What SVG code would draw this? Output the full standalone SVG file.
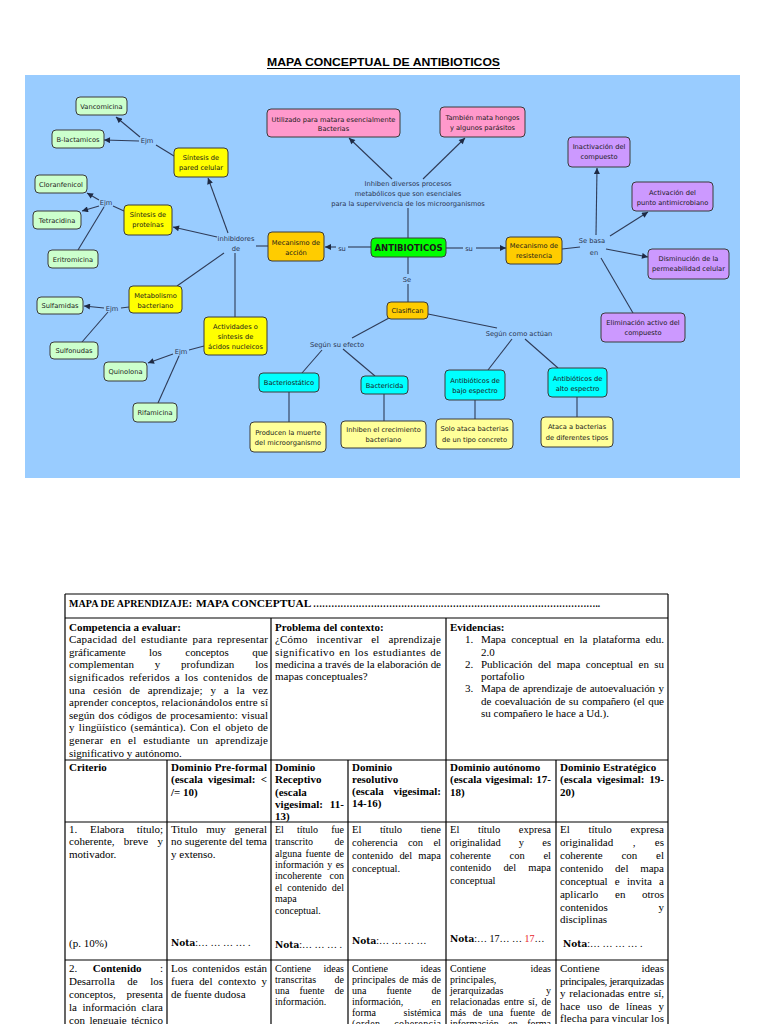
<svg xmlns="http://www.w3.org/2000/svg" width="768" height="1024" viewBox="0 0 768 1024">
<defs>
<marker id="ah" viewBox="0 0 10 10" refX="10" refY="5" markerWidth="7" markerHeight="6" markerUnits="userSpaceOnUse" orient="auto"><path d="M0,0 L10,5 L0,10 z" fill="#1e2a44"/></marker>
<style>
.n rect{stroke:#3a3a3a;stroke-width:1}
.n text{font-family:"DejaVu Sans",Verdana,sans-serif;font-size:6.7px;fill:#1a1a1a;text-anchor:middle}
.lbl{font-family:"DejaVu Sans",Verdana,sans-serif;font-size:6.7px;fill:#2a3450;text-anchor:middle}
.c line{stroke:#2f3b57;stroke-width:1.1}
.ar{marker-end:url(#ah)}
.g{fill:#ccffcc}.y{fill:#ffff00}.o{fill:#ffcc00}.p{fill:#ff99cc}.v{fill:#cc99ff}.cy{fill:#00ffff}.ly{fill:#ffff99}.gr{fill:#00ff00}
.tb line{stroke:#000;stroke-width:1.2}
.s{font-family:"Liberation Serif","Times New Roman",serif;font-size:11px;fill:#000}
.s10{font-size:10px}
.bd{font-weight:bold}
.nota{font-family:"DejaVu Serif",serif;font-size:9px;font-weight:bold}
</style>
</defs>
<rect width="768" height="1024" fill="#ffffff"/>
<text x="267" y="66" font-family="Liberation Sans,Arial,sans-serif" font-size="11.5" font-weight="bold" textLength="233" lengthAdjust="spacingAndGlyphs">MAPA CONCEPTUAL DE ANTIBIOTICOS</text>
<line x1="267" y1="68.5" x2="500" y2="68.5" stroke="#000" stroke-width="1"/>
<rect x="25" y="75" width="715" height="403" fill="#99ccff"/>

<g id="connectors" class="c">
<line x1="174" y1="156" x2="156" y2="145"/>
<line class="ar" x1="140" y1="137" x2="116" y2="117"/>
<line class="ar" x1="139" y1="141" x2="104" y2="140"/>
<line class="ar" x1="228" y1="233" x2="208" y2="178"/>
<line class="ar" x1="217" y1="237" x2="173" y2="227"/>
<line x1="124" y1="211" x2="113" y2="206"/>
<line class="ar" x1="99" y1="200" x2="87" y2="193"/>
<line class="ar" x1="99" y1="206" x2="82" y2="211"/>
<line x1="104" y1="207" x2="78" y2="250"/>
<line x1="224" y1="253" x2="177" y2="286"/>
<line x1="235" y1="253" x2="235" y2="317"/>
<line x1="268" y1="246" x2="256" y2="246"/>
<line x1="129" y1="307" x2="121" y2="308"/>
<line class="ar" x1="104" y1="308" x2="84" y2="306"/>
<line x1="108" y1="312" x2="82" y2="342"/>
<line x1="204" y1="346" x2="189" y2="350"/>
<line class="ar" x1="173" y1="354" x2="148" y2="363"/>
<line x1="179" y1="356" x2="158" y2="403"/>
<line x1="371" y1="247" x2="348" y2="247"/>
<line class="ar" x1="336" y1="247" x2="325" y2="247"/>
<line x1="446" y1="248" x2="463" y2="248"/>
<line class="ar" x1="476" y1="248" x2="506" y2="248"/>
<line x1="408" y1="238" x2="408" y2="208"/>
<line class="ar" x1="392" y1="179" x2="349" y2="138"/>
<line class="ar" x1="423" y1="179" x2="465" y2="138"/>
<line x1="562" y1="249" x2="580" y2="247"/>
<line class="ar" x1="596" y1="235" x2="597" y2="168"/>
<line class="ar" x1="610" y1="236" x2="648" y2="212"/>
<line class="ar" x1="606" y1="249" x2="648" y2="257"/>
<line x1="601" y1="258" x2="633" y2="313"/>
<line x1="408" y1="257" x2="408" y2="274"/>
<line x1="408" y1="284" x2="408" y2="302"/>
<line x1="389" y1="318" x2="352" y2="338"/>
<line x1="322" y1="350" x2="302" y2="373"/>
<line x1="343" y1="349" x2="375" y2="376"/>
<line x1="289" y1="392" x2="289" y2="422"/>
<line x1="384" y1="394" x2="384" y2="421"/>
<line x1="428" y1="314" x2="497" y2="328"/>
<line x1="512" y1="339" x2="488" y2="370"/>
<line x1="525" y1="339" x2="558" y2="368"/>
<line x1="475" y1="400" x2="475" y2="419"/>
<line x1="577" y1="397" x2="577" y2="417"/>
</g>

<g id="linklabels">
<text class="lbl" x="147" y="142.5">Ejm</text>
<text class="lbl" x="106" y="204.5">Ejm</text>
<text class="lbl" x="236" y="240.5">inhibidores</text>
<text class="lbl" x="236" y="250.5">de</text>
<text class="lbl" x="112" y="310.5">Ejm</text>
<text class="lbl" x="181" y="353.5">Ejm</text>
<text class="lbl" x="342" y="250.5">su</text>
<text class="lbl" x="469" y="250.5">su</text>
<text class="lbl" x="408" y="185.5">Inhiben diversos procesos</text>
<text class="lbl" x="408" y="195.5">metabólicos que son esenciales</text>
<text class="lbl" x="408" y="205.5">para la supervivencia de los microorganismos</text>
<text class="lbl" x="592" y="242.5">Se basa</text>
<text class="lbl" x="594" y="254.5">en</text>
<text class="lbl" x="407" y="281.5">Se</text>
<text class="lbl" x="337" y="346.5">Según su efecto</text>
<text class="lbl" x="519" y="335.5">Según como actúan</text>
</g>

<g id="n_vancomicina" class="n"><rect class="g" x="76" y="97" width="51" height="18" rx="4"/><text x="101.5" y="108.5">Vancomicina</text></g>
<g id="n_blactamicos" class="n"><rect class="g" x="52" y="130" width="52" height="18" rx="4"/><text x="78" y="141.5">B-lactamicos</text></g>
<g id="n_pared" class="n"><rect class="y" x="174" y="148" width="54" height="29" rx="4"/><text x="201" y="160">Síntesis de</text><text x="201" y="170">pared celular</text></g>
<g id="n_cloranfenicol" class="n"><rect class="g" x="35" y="175" width="52" height="18" rx="4"/><text x="61" y="186.5">Cloranfenicol</text></g>
<g id="n_tetracidina" class="n"><rect class="g" x="33" y="211" width="48" height="18" rx="4"/><text x="57" y="222.5">Tetracidina</text></g>
<g id="n_proteinas" class="n"><rect class="y" x="124" y="205" width="48" height="30" rx="4"/><text x="148" y="217">Síntesis de</text><text x="148" y="227">proteínas</text></g>
<g id="n_eritromicina" class="n"><rect class="g" x="48" y="250" width="50" height="18" rx="4"/><text x="73" y="261.5">Eritromicina</text></g>
<g id="n_metabolismo" class="n"><rect class="y" x="129" y="286" width="53" height="27" rx="4"/><text x="155.5" y="297.5">Metabolismo</text><text x="155.5" y="307.5">bacteriano</text></g>
<g id="n_sulfamidas" class="n"><rect class="g" x="37" y="297" width="46" height="17" rx="4"/><text x="60" y="308">Sulfamidas</text></g>
<g id="n_sulfonudas" class="n"><rect class="g" x="50" y="342" width="48" height="17" rx="4"/><text x="74" y="353">Sulfonudas</text></g>
<g id="n_actividades" class="n"><rect class="y" x="204" y="317" width="63" height="38" rx="4"/><text x="235.5" y="329">Actividades o</text><text x="235.5" y="339">síntesis de</text><text x="235.5" y="349">ácidos nucleicos</text></g>
<g id="n_quinolona" class="n"><rect class="g" x="104" y="362" width="43" height="19" rx="4"/><text x="125.5" y="373.5">Quinolona</text></g>
<g id="n_rifamicina" class="n"><rect class="g" x="133" y="403" width="44" height="19" rx="4"/><text x="155" y="414.5">Rifamicina</text></g>
<g id="n_mec_accion" class="n"><rect class="o" x="268" y="232" width="56" height="29" rx="4"/><text x="296" y="244.5">Mecanismo de</text><text x="296" y="254.5">acción</text></g>
<g id="n_antibioticos" class="n"><rect class="gr" x="371" y="238" width="75" height="19" rx="4"/><text x="408.5" y="250.8" style="font-weight:bold;font-size:8.5px">ANTIBIOTICOS</text></g>
<g id="n_mec_resistencia" class="n"><rect class="o" x="506" y="237" width="56" height="27" rx="4"/><text x="534" y="248">Mecanismo de</text><text x="534" y="258">resistencia</text></g>
<g id="n_utilizado" class="n"><rect class="p" x="267" y="109" width="133" height="28" rx="4"/><text x="333.5" y="121.5">Utilizado para matara esencialmente</text><text x="333.5" y="131">Bacterias</text></g>
<g id="n_tambien" class="n"><rect class="p" x="440" y="107" width="85" height="30" rx="4"/><text x="482.5" y="119.5">También mata hongos</text><text x="482.5" y="129.5">y algunos parásitos</text></g>
<g id="n_inactivacion" class="n"><rect class="v" x="568" y="137" width="62" height="30" rx="4"/><text x="599" y="148.5">Inactivación del</text><text x="599" y="159">compuesto</text></g>
<g id="n_activacion" class="n"><rect class="v" x="632" y="182" width="81" height="29" rx="4"/><text x="672.5" y="194.5">Activación del</text><text x="672.5" y="204.5">punto antimicrobiano</text></g>
<g id="n_disminucion" class="n"><rect class="v" x="648" y="249" width="81" height="30" rx="4"/><text x="688.5" y="260.5">Disminución de la</text><text x="688.5" y="271">permeabilidad celular</text></g>
<g id="n_eliminacion" class="n"><rect class="v" x="601" y="313" width="84" height="29" rx="4"/><text x="643" y="325">Eliminación activo del</text><text x="643" y="335">compuesto</text></g>
<g id="n_clasifican" class="n"><rect class="o" x="387" y="302" width="41" height="17" rx="4"/><text x="407.5" y="313">Clasifican</text></g>
<g id="n_bacteriostatico" class="n"><rect class="cy" x="259" y="373" width="60" height="19" rx="4"/><text x="289" y="384.5">Bacteriostático</text></g>
<g id="n_bactericida" class="n"><rect class="cy" x="361" y="376" width="47" height="18" rx="4"/><text x="384.5" y="387.5">Bactericida</text></g>
<g id="n_bajo" class="n"><rect class="cy" x="445" y="370" width="60" height="30" rx="4"/><text x="475" y="383">Antibióticos de</text><text x="475" y="393">bajo espectro</text></g>
<g id="n_alto" class="n"><rect class="cy" x="548" y="368" width="59" height="29" rx="4"/><text x="577.5" y="380.5">Antibióticos de</text><text x="577.5" y="390.5">alto espectro</text></g>
<g id="n_producen" class="n"><rect class="ly" x="250" y="422" width="76" height="30" rx="4"/><text x="288" y="434.5">Producen la muerte</text><text x="288" y="444.5">del microorganismo</text></g>
<g id="n_inhiben" class="n"><rect class="ly" x="341" y="421" width="85" height="27" rx="4"/><text x="383.5" y="432">Inhiben el crecimiento</text><text x="383.5" y="442">bacteriano</text></g>
<g id="n_solo" class="n"><rect class="ly" x="436" y="419" width="77" height="30" rx="4"/><text x="474.5" y="431">Solo ataca bacterias</text><text x="474.5" y="441.5">de un tipo concreto</text></g>
<g id="n_ataca" class="n"><rect class="ly" x="541" y="417" width="72" height="30" rx="4"/><text x="577" y="429">Ataca a bacterias</text><text x="577" y="439.5">de diferentes tipos</text></g>

<g id="table" class="tb">
<line x1="65" y1="594" x2="668" y2="594"/>
<line x1="65" y1="618" x2="668" y2="618"/>
<line x1="65" y1="760" x2="668" y2="760"/>
<line x1="65" y1="822" x2="668" y2="822"/>
<line x1="65" y1="960" x2="668" y2="960"/>
<line x1="65" y1="594" x2="65" y2="1024"/>
<line x1="668" y1="594" x2="668" y2="1024"/>
<line x1="271" y1="618" x2="271" y2="760"/>
<line x1="446" y1="618" x2="446" y2="760"/>
<line x1="167" y1="760" x2="167" y2="1024"/>
<line x1="271" y1="760" x2="271" y2="1024"/>
<line x1="348" y1="760" x2="348" y2="1024"/>
<line x1="446" y1="760" x2="446" y2="1024"/>
<line x1="556" y1="760" x2="556" y2="1024"/>
</g>

<g id="table_text">
<text class="s bd" x="69" y="607" style="font-size:10px" textLength="123">MAPA DE APRENDIZAJE:</text>
<text class="s bd" x="196" y="607" style="font-size:11.4px">MAPA CONCEPTUAL</text>
<text class="s bd" x="313" y="607" textLength="287" lengthAdjust="spacingAndGlyphs">…………………………………………………………………………………..</text>

<text class="s bd" x="69" y="630.5">Competencia a evaluar:</text>
<text class="s" x="69" y="643.1" textLength="199" word-spacing="2">Capacidad del estudiante para representar</text>
<text class="s" x="69" y="655.7" textLength="199" word-spacing="21">gráficamente los conceptos que</text>
<text class="s" x="69" y="668.3" textLength="199" word-spacing="18">complementan y profundizan los</text>
<text class="s" x="69" y="680.9" textLength="199" word-spacing="2">significados referidos a los contenidos  de</text>
<text class="s" x="69" y="693.5" textLength="199" word-spacing="5">una cesión de aprendizaje; y a la vez</text>
<text class="s" x="69" y="706.1" textLength="199">aprender conceptos, relacionándolos entre sí</text>
<text class="s" x="69" y="718.7" textLength="199" word-spacing="1">según dos códigos de procesamiento: visual</text>
<text class="s" x="69" y="731.3" textLength="199" word-spacing="1.4">y lingüístico (semántica). Con el objeto de</text>
<text class="s" x="69" y="743.9" textLength="199" word-spacing="4">generar en el estudiante un aprendizaje</text>
<text class="s" x="69" y="756.5">significativo y autónomo.</text>

<text class="s bd" x="275" y="631">Problema del contexto:</text>
<text class="s" x="275" y="643" textLength="166" word-spacing="6"> ¿Cómo incentivar el aprendizaje</text>
<text class="s" x="275" y="655.5" textLength="166" word-spacing="1.2">significativo en los estudiantes de</text>
<text class="s" x="275" y="668" textLength="166">medicina a través de la elaboración de</text>
<text class="s" x="275" y="680">mapas conceptuales?</text>

<text class="s bd" x="450" y="631">Evidencias:</text>
<text class="s" x="465" y="643">1.</text>
<text class="s" x="481" y="643" textLength="183" word-spacing="2.7">Mapa conceptual en la plataforma edu.</text>
<text class="s" x="481" y="655.5">2.0</text>
<text class="s" x="465" y="668">2.</text>
<text class="s" x="481" y="668" textLength="183" word-spacing="2.7">Publicación del mapa conceptual en su</text>
<text class="s" x="481" y="680">portafolio</text>
<text class="s" x="465" y="692">3.</text>
<text class="s" x="481" y="692" textLength="183" word-spacing="0.8">Mapa de aprendizaje de autoevaluación y</text>
<text class="s" x="481" y="704.5" textLength="183" word-spacing="1">de coevaluación de su compañero (el que</text>
<text class="s" x="481" y="717">su compañero le hace a Ud.).</text>

<text class="s bd" x="69" y="771">Criterio</text>
<text class="s bd" x="171" y="771" textLength="96">Dominio Pre-formal</text>
<text class="s bd" x="171" y="783.3" textLength="96" word-spacing="2.5">(escala vigesimal: &lt;</text>
<text class="s bd" x="171" y="795.6">/= 10)</text>
<text class="s bd" x="275" y="771">Dominio</text>
<text class="s bd" x="275" y="783.3">Receptivo</text>
<text class="s bd" x="275" y="795.6">(escala</text>
<text class="s bd" x="275" y="807.9" textLength="69" word-spacing="4">vigesimal: 11-</text>
<text class="s bd" x="275" y="820.2">13)</text>
<text class="s bd" x="352" y="771">Dominio</text>
<text class="s bd" x="352" y="783">resolutivo</text>
<text class="s bd" x="352" y="795" textLength="89" word-spacing="7">(escala vigesimal:</text>
<text class="s bd" x="352" y="807">14-16)</text>
<text class="s bd" x="450" y="771">Dominio autónomo</text>
<text class="s bd" x="450" y="783.3" textLength="101" word-spacing="0.7">(escala vigesimal: 17-</text>
<text class="s bd" x="450" y="795.6">18)</text>
<text class="s bd" x="560" y="771">Dominio Estratégico</text>
<text class="s bd" x="560" y="783.3" textLength="104" word-spacing="2">(escala vigesimal: 19-</text>
<text class="s bd" x="560" y="795.6">20)</text>

<text class="s" x="69" y="833" textLength="94" word-spacing="10">1. Elabora título;</text>
<text class="s" x="69" y="845" textLength="94" word-spacing="6.5">coherente, breve y</text>
<text class="s" x="69" y="858">motivador.</text>
<text class="s" x="69" y="947">(p. 10%)</text>

<text class="s" x="171" y="833" textLength="96" word-spacing="6">Titulo muy general</text>
<text class="s" x="171" y="845" textLength="96">no sugerente del tema</text>
<text class="s" x="171" y="858">y extenso.</text>
<text class="s s10" x="171" y="946"><tspan class="nota">Nota</tspan>:… … … … .</text>

<text class="s s10" x="275" y="833" textLength="69" word-spacing="10.6">El título fue</text>
<text class="s s10" x="275" y="845" textLength="69" word-spacing="19">transcrito de</text>
<text class="s s10" x="275" y="857" textLength="69" word-spacing="1.5">alguna fuente de</text>
<text class="s s10" x="275" y="868" textLength="69" word-spacing="1">información y es</text>
<text class="s s10" x="275" y="879" textLength="69" word-spacing="5.4">incoherente con</text>
<text class="s s10" x="275" y="891" textLength="69" word-spacing="2.5">el contenido del</text>
<text class="s s10" x="275" y="902">mapa</text>
<text class="s s10" x="275" y="914">conceptual.</text>
<text class="s s10" x="275" y="948"><tspan class="nota">Nota</tspan>:… … … .</text>

<text class="s" style="font-size:10.5px" x="352" y="833" textLength="89" word-spacing="16">El título tiene</text>
<text class="s" style="font-size:10.5px" x="352" y="846" textLength="89" word-spacing="7.7">coherencia con el</text>
<text class="s" style="font-size:10.5px" x="352" y="859" textLength="89" word-spacing="3.5">contenido del mapa</text>
<text class="s" style="font-size:10.5px" x="352" y="872">conceptual.</text>
<text class="s s10" x="352" y="944"><tspan class="nota">Nota</tspan>:… … … …</text>

<text class="s" style="font-size:10.5px" x="450" y="833" textLength="101" word-spacing="16">El título expresa</text>
<text class="s" style="font-size:10.5px" x="450" y="846" textLength="101" word-spacing="15.5">originalidad y es</text>
<text class="s" style="font-size:10.5px" x="450" y="859" textLength="101" word-spacing="16">coherente con el</text>
<text class="s" style="font-size:10.5px" x="450" y="871" textLength="101" word-spacing="9.5">contenido del mapa</text>
<text class="s" style="font-size:10.5px" x="450" y="884">conceptual</text>
<text class="s s10" x="450" y="942"><tspan class="nota">Nota</tspan>:… 17… … <tspan fill="#e8262d">17</tspan>…</text>

<text class="s" x="560" y="833" textLength="104" word-spacing="16">El título expresa</text>
<text class="s" x="560" y="846" textLength="104" word-spacing="16.7">originalidad , es</text>
<text class="s" x="560" y="859" textLength="104" word-spacing="16">coherente con el</text>
<text class="s" x="560" y="872" textLength="104" word-spacing="9">contenido del mapa</text>
<text class="s" x="560" y="885" textLength="104" word-spacing="4.4">conceptual e invita a</text>
<text class="s" x="560" y="898" textLength="104" word-spacing="14">aplicarlo en otros</text>
<text class="s" x="560" y="911" textLength="104" word-spacing="48">contenidos y</text>
<text class="s" x="560" y="923">disciplinas</text>
<text class="s s10" x="563" y="947"><tspan class="nota">Nota</tspan>:… … … … .</text>

<text class="s" x="69" y="972"><tspan x="69">2.</tspan><tspan x="92.7" class="bd">Contenido</tspan><tspan x="163" text-anchor="end">:</tspan></text>
<text class="s" x="69" y="985" textLength="94" word-spacing="9.7">Desarrolla de los</text>
<text class="s" x="69" y="998" textLength="94" word-spacing="8">conceptos, presenta</text>
<text class="s" x="69" y="1011" textLength="94" word-spacing="2.7">la información clara</text>
<text class="s" x="69" y="1024" textLength="94" word-spacing="1.8">con lenguaje técnico</text>

<text class="s" x="171" y="972" textLength="96" word-spacing="2">Los contenidos están</text>
<text class="s" x="171" y="985" textLength="96" word-spacing="2.8">fuera del contexto y</text>
<text class="s" x="171" y="998">de fuente dudosa</text>

<text class="s s10" x="275" y="972" textLength="69" word-spacing="10">Contiene ideas</text>
<text class="s s10" x="275" y="983" textLength="69" word-spacing="16">transcritas de</text>
<text class="s s10" x="275" y="994" textLength="69" word-spacing="7.5">una fuente de</text>
<text class="s s10" x="275" y="1005">información.</text>

<text class="s s10" x="352" y="972" textLength="89" word-spacing="30">Contiene ideas</text>
<text class="s s10" x="352" y="983" textLength="89" word-spacing="1">principales de más de</text>
<text class="s s10" x="352" y="994" textLength="89" word-spacing="17.5">una fuente de</text>
<text class="s s10" x="352" y="1005" textLength="89" word-spacing="26">información, en</text>
<text class="s s10" x="352" y="1016" textLength="89" word-spacing="25">forma sistémica</text>
<text class="s s10" x="352" y="1027" textLength="89" word-spacing="8">(orden, coherencia</text>

<text class="s s10" x="450" y="972" textLength="101" word-spacing="42">Contiene ideas</text>
<text class="s s10" x="450" y="983">principales,</text>
<text class="s s10" x="450" y="994" textLength="101" word-spacing="40">jerarquizadas y</text>
<text class="s s10" x="450" y="1005" textLength="101" word-spacing="1.7">relacionadas entre sí, de</text>
<text class="s s10" x="450" y="1016" textLength="101" word-spacing="4.2">más de una fuente de</text>
<text class="s s10" x="450" y="1027" textLength="101" word-spacing="7">información en forma</text>

<text class="s" x="560" y="972" textLength="104" word-spacing="39">Contiene ideas</text>
<text class="s" x="560" y="984.5" textLength="104">principales, jerarquizadas</text>
<text class="s" x="560" y="997" textLength="104" word-spacing="1">y relacionadas entre sí,</text>
<text class="s" x="560" y="1009.5" textLength="104" word-spacing="4">hace uso de líneas y</text>
<text class="s" x="560" y="1022" textLength="104">flecha para vincular los</text>
<text class="s" x="560" y="1033" textLength="104" word-spacing="8">conceptos y de más de</text>
</g>
</svg>
